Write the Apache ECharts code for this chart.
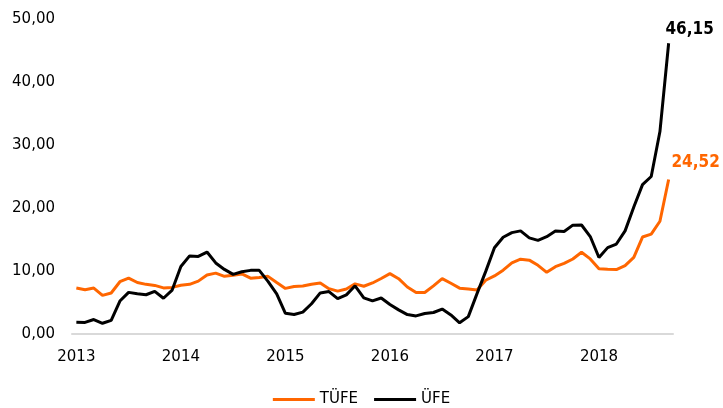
<!DOCTYPE html>
<html><head><meta charset="utf-8">
<script src="https://cdn.jsdelivr.net/npm/echarts@6/dist/echarts.min.js"></script>
<style>html,body{margin:0;padding:0;background:#fff}#c{width:723px;height:408px}</style>
</head><body><div id="c"></div>
<script>
const years = ['2013','2014','2015','2016','2017','2018'];
const tufe = [
 7.31,7.03,7.29,6.13,6.51,8.30,8.88,8.17,7.88,7.71,7.32,7.40,
 7.75,7.89,8.39,9.38,9.66,9.16,9.32,9.54,8.86,8.96,9.15,8.17,
 7.24,7.55,7.61,7.91,8.09,7.20,6.81,7.14,7.95,7.58,8.10,8.81,
 9.58,8.78,7.46,6.57,6.58,7.64,8.79,8.05,7.28,7.16,7.00,8.53,
 9.22,10.13,11.29,11.87,11.72,10.90,9.79,10.68,11.20,11.90,12.98,11.92,
 10.35,10.26,10.23,10.85,12.15,15.39,15.85,17.90,24.52];
const ufe = [
 1.88,1.84,2.30,1.70,2.17,5.23,6.61,6.38,6.23,6.77,5.67,6.97,
 10.72,12.40,12.31,13.01,11.28,10.25,9.46,9.88,10.10,10.10,8.36,6.36,
 3.28,3.10,3.48,4.80,6.52,6.73,5.62,6.21,7.65,5.74,5.25,5.71,
 4.69,3.83,3.08,2.87,3.25,3.41,3.96,3.03,1.78,2.76,6.41,9.94,
 13.69,15.36,16.09,16.37,15.26,14.87,15.45,16.34,16.28,17.28,17.30,15.47,
 12.14,13.71,14.28,16.37,20.16,23.71,25.00,32.13,46.15];
const categories = [];
years.forEach(y => { for (let m = 1; m <= 12; m++) categories.push(y + '-' + m); });
categories.length = tufe.length;

const font = 'DejaVu Sans';
const labelFont = '"DejaVu Sans Condensed", "DejaVu Sans"';
const fmt = v => v.toFixed(2).replace('.', ',');
function withLast(arr, color, offset) {
  return arr.map((v, i) => i === arr.length - 1 ? {
    value: v,
    label: { show: true, position: 'top', offset: offset, formatter: p => fmt(p.value),
      color: color, fontWeight: 'bold', fontSize: 17, fontFamily: labelFont }
  } : v);
}
const chart = echarts.init(document.getElementById('c'));
chart.setOption({
  animation: false,
  grid: { left: 72, right: 50, top: 19, bottom: 74 },
  legend: {
    top: 392, left: 'center', padding: 0, itemWidth: 42, itemHeight: 3, itemGap: 16,
    icon: 'rect',
    textStyle: { fontFamily: font, fontSize: 15, color: '#000' },
    data: ['TÜFE', 'ÜFE']
  },
  xAxis: {
    type: 'category', data: categories, boundaryGap: true,
    axisLine: { lineStyle: { color: '#d9d9d9', width: 2 } },
    axisTick: { show: false },
    axisLabel: { interval: 11, color: '#000', fontFamily: font, fontSize: 15, margin: 16,
      formatter: v => v.split('-')[0] }
  },
  yAxis: {
    type: 'value', min: 0, max: 50, interval: 10,
    splitLine: { show: false }, axisLine: { show: false }, axisTick: { show: false },
    axisLabel: { color: '#000', fontFamily: font, fontSize: 15, margin: 17, formatter: v => fmt(v) }
  },
  series: [
    { name: 'TÜFE', type: 'line', data: withLast(tufe, '#ff6600', [27, -3]), symbol: 'circle', symbolSize: 0, showSymbol: true,
      lineStyle: { color: '#ff6600', width: 3 }, itemStyle: { color: '#ff6600' } },
    { name: 'ÜFE', type: 'line', data: withLast(ufe, '#000000', [21, 0]), symbol: 'circle', symbolSize: 0, showSymbol: true,
      lineStyle: { color: '#000000', width: 3 }, itemStyle: { color: '#000000' } }
  ]
});
</script></body></html>
